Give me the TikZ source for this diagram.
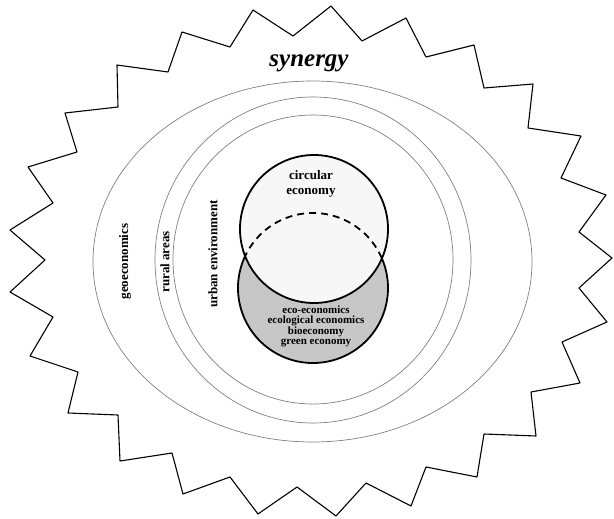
\documentclass[tikz,border=0pt]{standalone}
\usepackage{fontspec}
\setmainfont{Liberation Serif}
\begin{document}
\begin{tikzpicture}[x=1pt,y=-1pt,
  ring/.style={draw=black!50,line width=0.7pt},
  circ/.style={line width=1.8pt},
  lbl/.style={font=\bfseries\fontsize{13}{15}\selectfont,inner sep=0pt},
  smalllbl/.style={font=\bfseries\fontsize{11}{10}\selectfont,inner sep=0pt,align=center}]
\useasboundingbox (0,0) rectangle (614,519);
% star outline
\draw[line width=1.1pt,line join=round] (331,6) -- (362,41) -- (406,18) -- (426,57) -- (474,45) -- (484,88) -- (533,84) -- (528,128) -- (581,136) -- (561,178) -- (606,195) -- (579,232) -- (612,258) -- (579,288) -- (607,322) -- (562,342) -- (580,383) -- (531,392) -- (536,436) -- (484,434) -- (477,477) -- (426,467) -- (411,506) -- (366,483) -- (336,516) -- (297,487) -- (258,514) -- (230,477) -- (183,494) -- (172,453) -- (120,461) -- (118,415) -- (68,413) -- (78,372) -- (30,356) -- (53,317) -- (10,292) -- (45,260) -- (10,230) -- (53,203) -- (28,167) -- (77,152) -- (65,113) -- (118,107) -- (117,65) -- (168,72) -- (182,32) -- (230,47) -- (253,10) -- (293,36) -- cycle;
% rings
\draw[ring] (312.5,261.5) ellipse [x radius=219.5, y radius=180.5];
\draw[ring] (313,260) ellipse [x radius=158, y radius=163];
\draw[ring] (313,259.5) ellipse [x radius=140, y radius=144.5];
% circles
\coordinate (cb) at (313,288);
\coordinate (ct) at (314,229);
\fill[black!22] (cb) circle [radius=75];
\fill[black!3] (ct) circle [radius=74];
\draw[circ] (ct) circle [radius=74];
\draw[circ] (cb) ++(203.5:75) arc [start angle=203.5, end angle=-23.5, radius=75];
\draw[circ,dash pattern=on 7pt off 5pt] (cb) ++(-23.5:75) arc [start angle=-23.5, end angle=-156.5, radius=75];
% texts
\node[font=\bfseries\itshape\fontsize{25}{28}\selectfont,anchor=base,inner sep=0pt] (syn) at (309,67) {synergy};
\node[lbl,rotate=90] (geo) at (125,261.5) {geoeconomics};
\node[lbl,rotate=90] (rural) at (165,262) {rural areas};
\node[lbl,rotate=90] (urban) at (213,254) {urban environment};
\node[lbl,align=center] (ce) at (311,184) {circular\\economy};
\node[smalllbl] (eco) at (316,326) {eco-economics\\ecological economics\\bioeconomy\\green economy};
\end{tikzpicture}
\end{document}
